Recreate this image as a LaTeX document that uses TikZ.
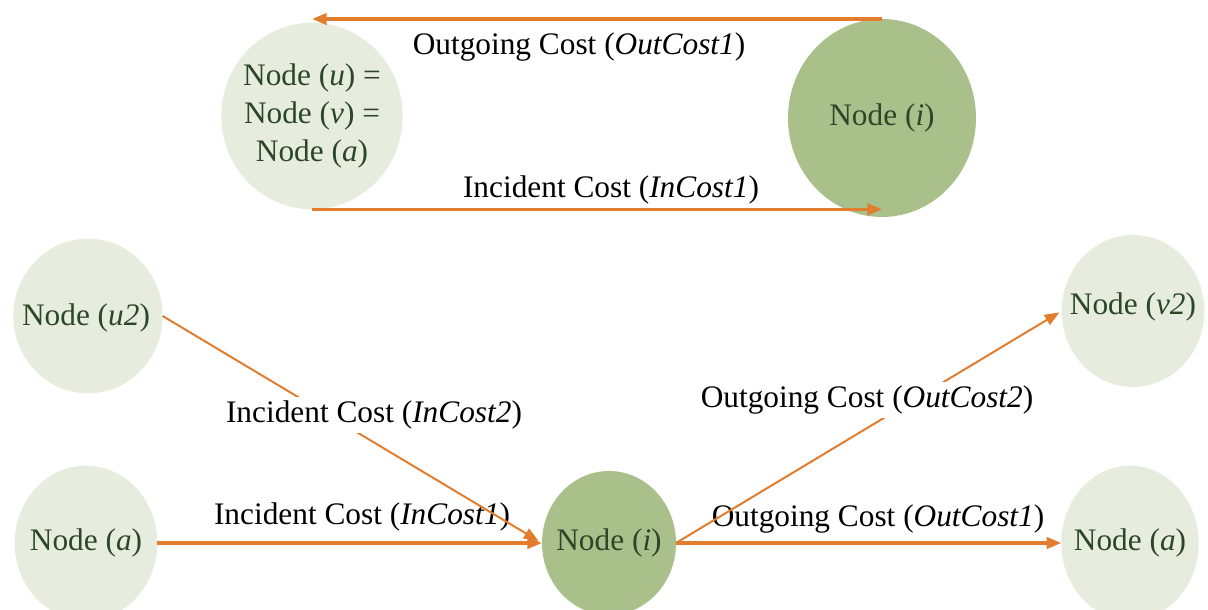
\documentclass[tikz,border=0pt]{standalone}
\usepackage{fontspec}
\setmainfont{Liberation Serif}
\usetikzlibrary{shapes.geometric,arrows.meta}
\definecolor{lightg}{HTML}{E7EDDE}
\definecolor{darkg}{HTML}{A9C08B}
\definecolor{nodetext}{HTML}{2C4628}
\definecolor{orng}{HTML}{E27D2E}
\begin{document}
\begin{tikzpicture}[x=0.75pt,y=-0.75pt,
  nd/.style={ellipse, inner sep=0pt, outer sep=0pt, fill=lightg},
  dk/.style={nd, fill=darkg},
  ntxt/.style={text=nodetext, font=\fontsize{23.5}{28.5}\selectfont, align=center, inner sep=0pt},
  arr/.style={draw=orng, line width=2.4pt, -{Triangle[length=11pt,width=8.5pt]}},
  thin/.style={line width=1.5pt},
  lbl/.style={font=\fontsize{23.5}{28}\selectfont, text=black, inner sep=1pt},
  lblw/.style={lbl, fill=white, inner sep=3pt}]
\useasboundingbox (0,0) rectangle (1208,610);
\clip (0,0) rectangle (1208,610);
% top part
\node[nd, minimum width=136pt, minimum height=140pt] (uva) at (312,116) {};
\node[ntxt] (uvat) at (uva) {Node (\textit{u}) =\\Node (\textit{v}) =\\Node (\textit{a})};
\node[dk, minimum width=141pt, minimum height=148.5pt] (ni) at (882,118) {};
\node[ntxt] (nit) at (ni) {Node (\textit{i})};
\draw[arr] (ni.north) -- (ni.north -| uva.north);
\draw[arr] (uva.south) -- (uva.south -| ni.south);
\node[lbl] (lo1) at (579,47) {Outgoing Cost (\textit{OutCost1})};
\node[lbl] (li1) at (611,190) {Incident Cost (\textit{InCost1})};
% bottom part
\node[nd, minimum width=112pt, minimum height=116pt] (u2) at (88,316) {};
\node[ntxt] (u2t) at (86,318) {Node (\textit{u2})};
\node[nd, minimum width=107pt, minimum height=116pt] (al) at (86,543) {};
\node[ntxt] (alt) at (al) {Node (\textit{a})};
\node[dk, minimum width=100.5pt, minimum height=108pt] (ni2) at (609,543) {};
\node[ntxt] (ni2t) at (ni2) {Node (\textit{i})};
\node[nd, minimum width=107pt, minimum height=114pt] (v2) at (1133,311) {};
\node[ntxt] (v2t) at (1133,307) {Node (\textit{v2})};
\node[nd, minimum width=103pt, minimum height=116pt] (ar) at (1130,543) {};
\node[ntxt] (art) at (ar) {Node (\textit{a})};
\node[lbl] (bi1) at (362,517) {Incident Cost (\textit{InCost1})};
\node[lbl] (bo1) at (878,519) {Outgoing Cost (\textit{OutCost1})};
\draw[arr] (al.east) -- (ni2.west);
\draw[arr] (ni2.east) -- (ar.west);
\draw[arr, thin, shorten >=3pt] (u2.east) -- (ni2.west);
\draw[arr, thin, shorten >=2pt] (ni2.east) -- (v2.west);
\node[lblw] (bi2) at (374,415) {Incident Cost (\textit{InCost2})};
\node[lblw] (bo2) at (867,400) {Outgoing Cost (\textit{OutCost2})};
\end{tikzpicture}
\end{document}
